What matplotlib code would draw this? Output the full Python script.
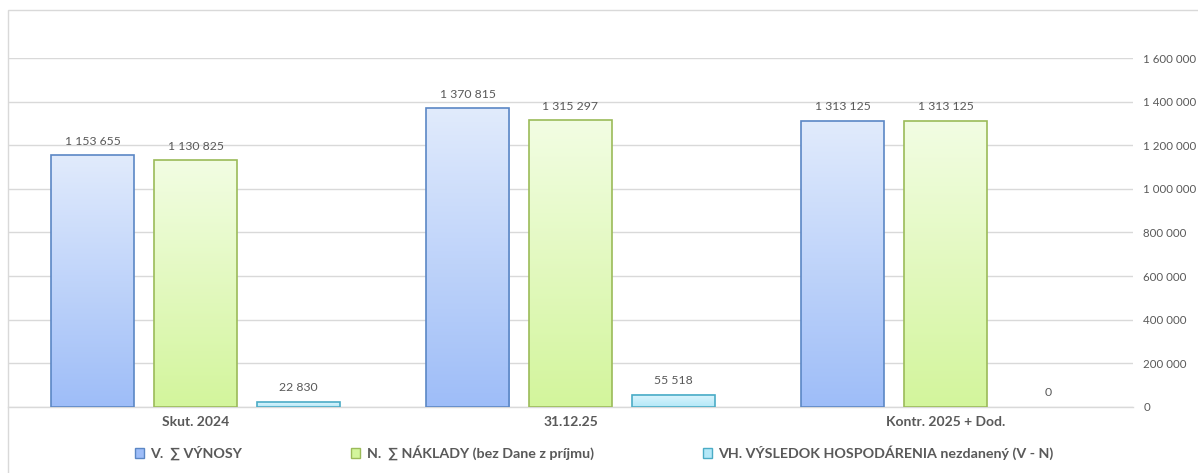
import matplotlib.pyplot as plt
import numpy as np
from matplotlib.patches import Patch, Rectangle
from matplotlib.ticker import FuncFormatter

# --- DATA ---
categories = ["Skut. 2024", "31.12.25", "Kontr. 2025 + Dod."]
series_names = [
    "V.  \u2211 VÝNOSY",
    "N.  \u2211 NÁKLADY (bez Dane z príjmu)",
    "VH. VÝSLEDOK HOSPODÁRENIA nezdanený (V - N)",
]
vynosy = [1153655, 1370815, 1313125]
naklady = [1130825, 1315297, 1313125]
vysledok = [22830, 55518, 0]
y_ticks = [0, 200000, 400000, 600000, 800000, 1000000, 1200000, 1400000, 1600000]

# --- STYLE ---
TEXT = "#595959"
GRID = "#d9d9d9"
FONT = ["Lato", "DejaVu Sans"]
plt.rcParams["font.family"] = FONT

# top colour, bottom colour, edge colour per series
styles = [
    ("#e1ebfc", "#9ebdf8", "#5b87c5"),
    ("#f2fde3", "#d3f59c", "#9bbb59"),
    ("#dcf5fd", "#b4e8f8", "#4bacc6"),
]

fig = plt.figure(figsize=(11.98, 4.73), dpi=100)
W, H = 1198, 473

# chart frame
fig.patches.append(Rectangle((8 / W, -0.1), 1.2, 1.1 - 10 / H, transform=fig.transFigure,
                             fill=False, edgecolor=GRID, linewidth=1.0))

ax = fig.add_axes([8 / W, (H - 406.7) / H, 1125 / W, 348.4 / H])

x = np.arange(len(categories))
bar_w = 83 / 375
step = 103 / 375
grad = np.linspace(0, 1, 256).reshape(-1, 1)

for i, values in enumerate([vynosy, naklady, vysledok]):
    top, bottom, edge = styles[i]
    cmap = plt.matplotlib.colors.LinearSegmentedColormap.from_list(f"g{i}", [bottom, top])
    for xi, v in zip(x + (i - 1) * step, values):
        left = xi - bar_w / 2
        if v > 0:
            ax.imshow(grad, cmap=cmap, aspect="auto", origin="lower",
                      extent=(left, left + bar_w, 0, v), zorder=2)
            ax.add_patch(Rectangle((left, 0), bar_w, v, fill=False, edgecolor=edge,
                                   linewidth=1.2, zorder=3))
        ax.annotate(f"{v:,}".replace(",", " "), (xi, v), xytext=(0, 6),
                    textcoords="offset points", ha="center", va="bottom",
                    fontsize=8.8, color=TEXT)

ax.set_xlim(-0.5, len(categories) - 0.5)
ax.set_ylim(0, 1600000)

# axes and grid
ax.set_yticks(y_ticks)
ax.yaxis.set_major_formatter(FuncFormatter(lambda v, p: f"{int(v):,}".replace(",", " ")))
ax.yaxis.tick_right()
ax.tick_params(axis="y", length=0, pad=7.5, labelsize=8.3, labelcolor=TEXT)
ax.grid(axis="y", color=GRID, linewidth=1.0, zorder=0)
ax.set_axisbelow(True)
for s in ["top", "right", "left"]:
    ax.spines[s].set_visible(False)
ax.spines["bottom"].set_color(GRID)
ax.spines["bottom"].set_linewidth(1.0)

ax.set_xticks(x)
ax.set_xticklabels(categories, fontweight="bold", fontsize=10, color=TEXT)
ax.tick_params(axis="x", length=0, pad=7)

handles = [Patch(facecolor=s[1], edgecolor=s[2], linewidth=1.0) for s in styles]
fig.legend(handles, series_names, loc="center", bbox_to_anchor=(0.496, (H - 453) / H),
           ncol=3, frameon=False, handlelength=0.65, handleheight=0.65,
           handletextpad=0.45, columnspacing=7.6,
           prop={"family": FONT, "weight": "bold", "size": 10.3}, labelcolor=TEXT)

fig.savefig("out.png", dpi=100)
